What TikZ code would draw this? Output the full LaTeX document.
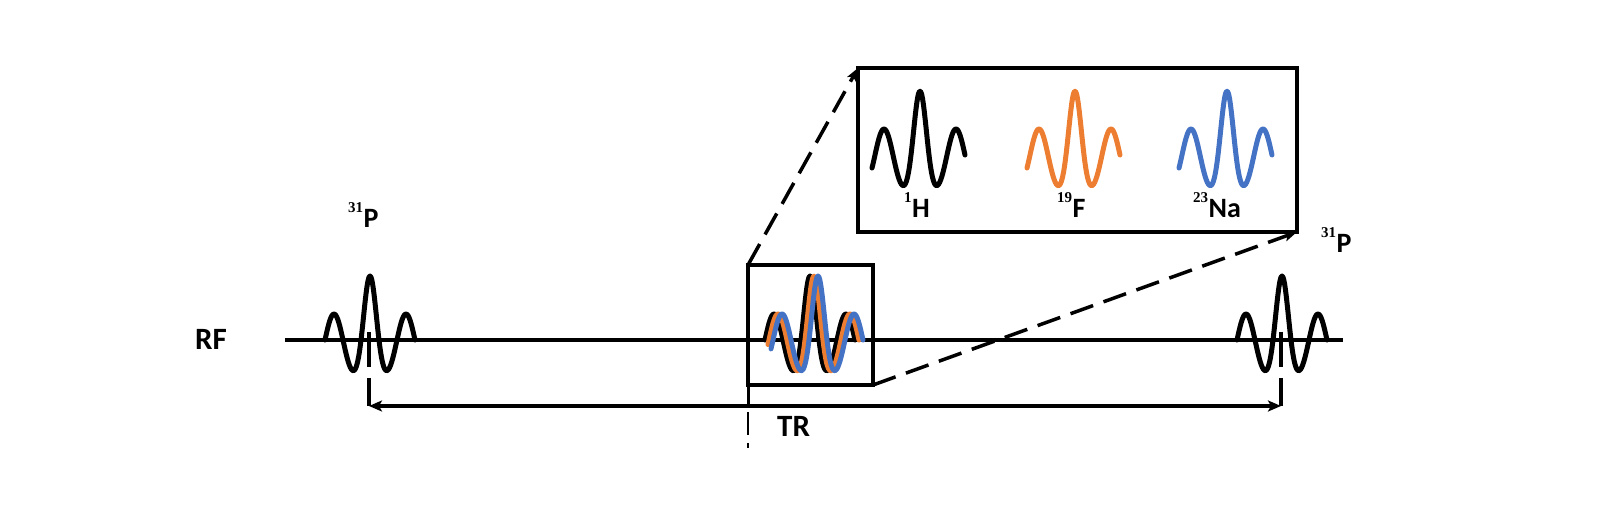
\documentclass[tikz,border=0pt]{standalone}
\usepackage{fontspec}
\setmainfont{Carlito}
\newfontfamily\supfont{Liberation Serif}
\usetikzlibrary{arrows.meta}
\definecolor{rforange}{HTML}{ED7D31}
\definecolor{rfblue}{HTML}{4472C4}
\newcommand{\isolabel}[2]{{\supfont\bfseries\fontsize{15}{15}\selectfont\raisebox{15pt}{#1}}\kern0.5pt{\bfseries\fontsize{28}{30}\selectfont #2}}
\newcommand{\rfpulse}[4][black]{\draw[pulseline,#1] plot[domain=#4:45,samples=93,smooth] ({#2+\x},{#3-(26+38*exp(-(\x*\x/144)))*cos(10*\x)});}
\tikzset{
  pulseline/.style={line width=5pt,line join=round,line cap=round},
  boxnode/.style={draw,line width=4pt,outer sep=0pt,inner sep=0pt},
  zoomline/.style={line width=3.5pt,dash pattern=on 24pt off 11pt,-{Stealth[length=13pt,width=10pt,inset=3pt]}},
  trarrow/.style={line width=3.5pt,{Stealth[length=13pt,width=11pt,inset=3pt]}-{Stealth[length=13pt,width=11pt,inset=3pt]}},
  tick/.style={line width=3.5pt},
  lbl/.style={inner sep=0pt,anchor=base west},
  biglbl/.style={lbl,font=\bfseries\fontsize{31}{33}\selectfont}
}
\begin{document}
\begin{tikzpicture}[x=1pt,y=-1pt]
\useasboundingbox (0,0) rectangle (1618,510);
% baseline
\coordinate (rfstart) at (285,340);
\coordinate (rfend) at (1343,340);
\draw[line width=3.5pt] (rfstart) -- (rfend);
% boxes
\node[boxnode,minimum width=125pt,minimum height=120pt] (sbox) at (810.5,325) {};
\node[boxnode,minimum width=439pt,minimum height=164pt] (bbox) at (1077.5,150) {};
% pulses on the RF line
\rfpulse{370}{340}{-45}
\rfpulse{1282}{340}{-45}
\rfpulse{810}{340}{-45}
\rfpulse[rforange]{814}{340}{-46}
\rfpulse[rfblue]{818}{340}{-47}
% pulses in the inset
\rfpulse{920}{155}{-48}
\rfpulse[rforange]{1075}{155}{-48}
\rfpulse[rfblue]{1227}{155}{-48}
% zoom connectors
\draw[zoomline] (sbox.north west) -- (bbox.north west);
\draw[zoomline] (sbox.south east) -- (bbox.south east);
% centre markers
\coordinate (lc1) at (369,332); \coordinate (lc2) at (369,367);
\coordinate (rc1) at (1281,332); \coordinate (rc2) at (1281,367);
\draw[tick] (lc1) -- (lc2);
\draw[tick] (rc1) -- (rc2);
\coordinate (lt) at (369,378); \coordinate (trL) at (369,406);
\coordinate (rt) at (1281,378); \coordinate (trR) at (1281,406);
\draw[tick] (lt) -- (trL);
\draw[tick] (rt) -- (trR);
\draw[trarrow] (trL) -- (trR);
\coordinate (mv1) at (sbox.south west);
\coordinate (mv2) at (748,407);
\coordinate (mv3) at (748,412);
\coordinate (mv4) at (748,448);
\draw[line width=3pt] (mv1) -- (mv2);
\draw[line width=2pt,dash pattern=on 23pt off 8pt] (mv3) -- (mv4);
% labels
\node[biglbl] (rf) at (195,350) {RF};
\node[biglbl] (tr) at (777,437) {TR};
\node[lbl] (p1) at (348,228) {\isolabel{31}{P}};
\node[lbl] (p2) at (1321,253) {\isolabel{31}{P}};
\node[lbl] (h) at (904,218) {\isolabel{1}{H}};
\node[lbl] (f) at (1057,218) {\isolabel{19}{F}};
\node[lbl] (na) at (1193,218) {\isolabel{23}{Na}};
\end{tikzpicture}
\end{document}
